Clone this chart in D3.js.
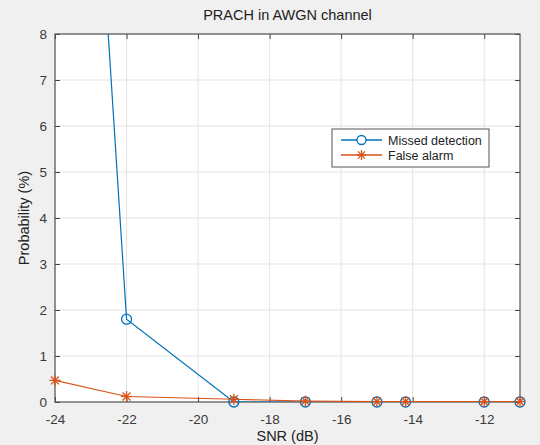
<!DOCTYPE html>
<html><head><meta charset="utf-8">
<script src="https://cdn.jsdelivr.net/npm/d3@7"></script>
<style>body{margin:0;background:#f0f0f0;} svg{display:block;}</style>
</head><body><svg id="c" width="540" height="445"></svg>
<script>
const snr = [-24, -22, -19, -17, -15, -14.2, -12, -11];
const missedDetection = [26, 1.8, 0, 0, 0, 0, 0, 0];
const falseAlarm = [0.47, 0.12, 0.06, 0.02, 0.01, 0.01, 0.01, 0.01];
const xTicks = [-24, -22, -20, -18, -16, -14, -12];
const yTicks = [0, 1, 2, 3, 4, 5, 6, 7, 8];
const seriesNames = ["Missed detection", "False alarm"];
const colors = ["#0072BD", "#D95319"];

const svg = d3.select("#c");
const L = 55, R = 520, T = 34, B = 402;
const x = d3.scaleLinear().domain([-24, -11]).range([L, R]);
const y = d3.scaleLinear().domain([0, 8]).range([B, T]);
const font = "Liberation Sans, Arial, sans-serif";

svg.append("rect").attr("x", L).attr("y", T).attr("width", R - L).attr("height", B - T).attr("fill", "#fff");

// grid
const g = svg.append("g");
g.selectAll(".gx").data(xTicks).join("line").attr("x1", d => x(d)).attr("x2", d => x(d)).attr("y1", T).attr("y2", B).attr("stroke", "#e3e3e3").attr("stroke-width", 1);
g.selectAll(".gy").data(yTicks).join("line").attr("x1", L).attr("x2", R).attr("y1", d => y(d)).attr("y2", d => y(d)).attr("stroke", "#e3e3e3").attr("stroke-width", 1);

// axes with inward ticks
const ax = svg.append("g").attr("transform", `translate(0,${B})`).call(d3.axisBottom(x).tickValues(xTicks).tickSizeInner(-5).tickSizeOuter(0).tickPadding(12));
const axT = svg.append("g").attr("transform", `translate(0,${T})`).call(d3.axisTop(x).tickValues(xTicks).tickSizeInner(-5).tickSizeOuter(0).tickFormat(""));
const ay = svg.append("g").attr("transform", `translate(${L},0)`).call(d3.axisLeft(y).tickValues(yTicks).tickSizeInner(-5).tickSizeOuter(0).tickPadding(8));
const ayR = svg.append("g").attr("transform", `translate(${R},0)`).call(d3.axisRight(y).tickValues(yTicks).tickSizeInner(-5).tickSizeOuter(0).tickFormat(""));
[ax, axT, ay, ayR].forEach(a => {
  a.select(".domain").remove();
  a.selectAll("line").attr("stroke", "#444");
  a.selectAll("text").attr("font-family", font).attr("font-size", 13.5).attr("fill", "#3a3a3a");
});
ax.selectAll("text").text(d => "-" + Math.abs(d));
svg.append("rect").attr("x", L).attr("y", T).attr("width", R - L).attr("height", B - T).attr("fill", "none").attr("stroke", "#555").attr("stroke-width", 1.2);

// clip
svg.append("clipPath").attr("id", "clip").append("rect").attr("x", L).attr("y", T).attr("width", R - L).attr("height", B - T);
const plot = svg.append("g").attr("clip-path", "url(#clip)");
const line = d3.line().x(d => x(d[0])).y(d => y(d[1]));
const md = snr.map((s, i) => [s, missedDetection[i]]);
const fa = snr.map((s, i) => [s, falseAlarm[i]]);
plot.append("path").datum(md).attr("d", line).attr("fill", "none").attr("stroke", colors[0]).attr("stroke-width", 1.2);
plot.append("path").datum(fa).attr("d", line).attr("fill", "none").attr("stroke", colors[1]).attr("stroke-width", 1.2);

function star(sel, cx, cy, r, c) {
  const gg = sel.append("g").attr("stroke", c).attr("stroke-width", 1.3);
  gg.append("line").attr("x1", cx - r).attr("x2", cx + r).attr("y1", cy).attr("y2", cy);
  gg.append("line").attr("x1", cx).attr("x2", cx).attr("y1", cy - r).attr("y2", cy + r);
  const k = r * 0.72;
  gg.append("line").attr("x1", cx - k).attr("x2", cx + k).attr("y1", cy - k).attr("y2", cy + k);
  gg.append("line").attr("x1", cx - k).attr("x2", cx + k).attr("y1", cy + k).attr("y2", cy - k);
}
const mk = svg.append("g");
md.filter(d => d[1] <= 8).forEach(d => {
  mk.append("circle").attr("cx", x(d[0])).attr("cy", y(d[1])).attr("r", 5).attr("fill", "none").attr("stroke", colors[0]).attr("stroke-width", 1.3);
});
fa.forEach(d => star(mk, x(d[0]), y(d[1]), 5.5, colors[1]));

// title and labels
svg.append("text").attr("x", (L + R) / 2).attr("y", 20).attr("text-anchor", "middle").attr("font-family", font).attr("font-size", 14.5).attr("fill", "#222").text("PRACH in AWGN channel");
svg.append("text").attr("x", (L + R) / 2).attr("y", 441).attr("text-anchor", "middle").attr("font-family", font).attr("font-size", 14.5).attr("fill", "#222").text("SNR (dB)");
svg.append("text").attr("transform", `translate(29,${(T + B) / 2}) rotate(-90)`).attr("text-anchor", "middle").attr("font-family", font).attr("font-size", 14.5).attr("fill", "#222").text("Probability (%)");

// legend
const lg = svg.append("g");
lg.append("rect").attr("x", 332).attr("y", 129).attr("width", 157).attr("height", 38).attr("fill", "#fff").attr("stroke", "#555").attr("stroke-width", 1);
seriesNames.forEach((n, i) => {
  const yy = 140 + i * 15;
  lg.append("line").attr("x1", 341).attr("x2", 382).attr("y1", yy).attr("y2", yy).attr("stroke", colors[i]).attr("stroke-width", 1.3);
  if (i === 0) lg.append("circle").attr("cx", 361.5).attr("cy", yy).attr("r", 4.5).attr("fill", "#fff").attr("stroke", colors[0]).attr("stroke-width", 1.3);
  else star(lg, 361.5, yy, 5, colors[1]);
  lg.append("text").attr("x", 388).attr("y", yy + 4.5).attr("font-family", font).attr("font-size", 12.5).attr("fill", "#222").text(n);
});
</script></body></html>
